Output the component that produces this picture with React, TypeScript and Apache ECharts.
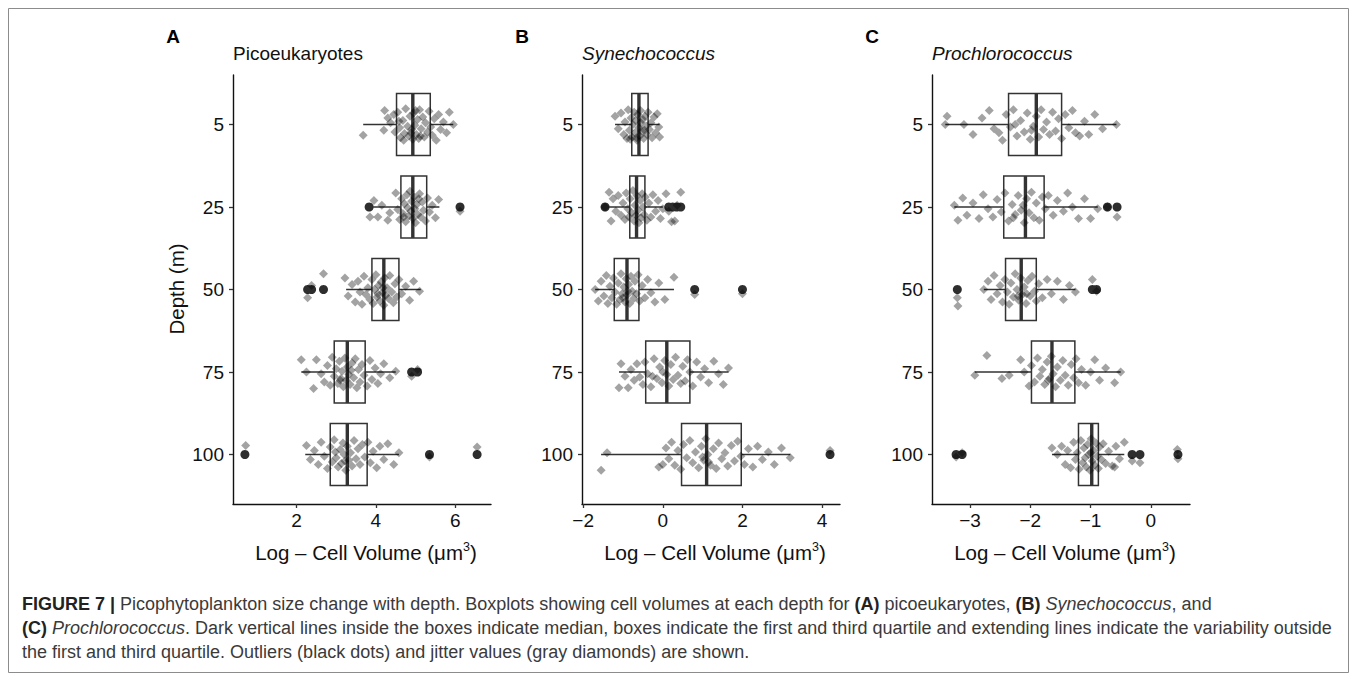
import React, { useEffect, useRef } from 'react';
import * as echarts from 'echarts';

// ---------------- DATA ----------------
const depthLabels = ['5', '25', '50', '75', '100'];

// box stats per depth: [lowWhisker, Q1, median, Q3, highWhisker]
const picoBoxes = [
  [3.68, 4.52, 4.93, 5.37, 5.95],
  [3.93, 4.63, 4.93, 5.28, 5.6],
  [3.25, 3.9, 4.2, 4.58, 5.13],
  [2.12, 2.95, 3.28, 3.73, 4.5],
  [2.22, 2.85, 3.28, 3.78, 4.58],
];
const synBoxes = [
  [-1.2, -0.78, -0.6, -0.37, -0.08],
  [-1.35, -0.83, -0.66, -0.45, 0.0],
  [-1.7, -1.22, -0.9, -0.6, 0.28],
  [-1.1, -0.43, 0.1, 0.68, 1.65],
  [-1.55, 0.47, 1.1, 1.97, 3.2],
];
const proBoxes = [
  [-3.41, -2.36, -1.9, -1.48, -0.57],
  [-3.26, -2.44, -2.08, -1.77, -0.88],
  [-2.77, -2.41, -2.15, -1.9, -1.25],
  [-2.92, -1.98, -1.64, -1.26, -0.5],
  [-1.64, -1.2, -0.98, -0.87, -0.44],
];

// outliers per depth
const picoOutliers = [[], [3.83, 6.12], [2.28, 2.38, 2.68], [4.9, 5.05], [0.7, 5.35, 6.55]];
const synOutliers = [[], [-1.45, 0.15, 0.25, 0.35, 0.45], [0.8, 2.0], [], [4.2]];
const proOutliers = [[], [-0.72, -0.56], [-3.21, -0.97, -0.9], [], [-3.23, -3.13, -0.31, -0.18, 0.45]];

// jitter points per depth: [value, vertical jitter offset]
const picoJitter5 = [[3.68,0.13],[4.22,-0.17],[4.3,-0.08],[4.2,0.07],[4.37,-0.02],[4.48,0.09],[4.55,-0.15],[4.6,0.04],[4.62,0.16],[4.68,-0.05],[4.72,0.11],[4.75,-0.19],[4.8,0.02],[4.83,0.14],[4.86,-0.1],[4.9,0.06],[4.93,0.18],[4.95,-0.14],[4.98,0.01],[5.02,0.12],[5.05,-0.06],[5.08,0.17],[5.1,-0.18],[5.14,0.05],[5.18,-0.09],[5.22,0.15],[5.25,-0.02],[5.3,0.09],[5.34,-0.16],[5.38,0.03],[5.42,0.13],[5.47,-0.07],[5.52,0.19],[5.58,-0.12],[5.63,0.06],[5.7,-0.03],[5.78,0.1],[5.85,-0.15],[5.95,0.0],[4.45,-0.12],[4.7,0.19],[5.0,-0.17],[4.88,0.1],[5.12,0.14],[4.58,-0.04]];
const picoJitter25 = [[3.85,0.12],[3.95,-0.08],[4.05,0.12],[4.15,-0.02],[4.3,0.16],[4.35,0.07],[4.5,-0.17],[4.55,0.03],[4.6,0.15],[4.65,-0.1],[4.68,0.08],[4.72,-0.04],[4.75,0.18],[4.78,-0.15],[4.8,0.01],[4.83,0.11],[4.86,-0.19],[4.88,0.05],[4.9,-0.07],[4.93,0.14],[4.96,-0.12],[4.98,0.02],[5.0,0.19],[5.03,-0.03],[5.06,0.09],[5.1,-0.16],[5.13,0.12],[5.17,-0.06],[5.2,0.04],[5.25,0.17],[5.3,-0.11],[5.35,0.06],[5.42,-0.02],[5.5,0.13],[5.58,-0.09],[6.12,0.05],[4.7,0.12],[5.08,-0.1]];
const picoJitter50 = [[2.28,0.1],[2.38,-0.05],[2.68,-0.19],[3.22,-0.14],[3.3,0.08],[3.4,-0.06],[3.48,0.15],[3.55,-0.1],[3.6,0.03],[3.65,0.18],[3.7,-0.16],[3.75,0.06],[3.8,-0.02],[3.85,0.12],[3.9,-0.12],[3.93,0.17],[3.97,0.0],[4.0,-0.18],[4.03,0.09],[4.07,-0.05],[4.1,0.14],[4.13,-0.09],[4.16,0.04],[4.2,0.19],[4.22,-0.14],[4.25,0.07],[4.28,-0.02],[4.32,0.11],[4.35,-0.17],[4.4,0.03],[4.44,0.16],[4.48,-0.07],[4.52,0.09],[4.58,-0.12],[4.65,0.05],[4.75,-0.04],[4.85,0.13],[4.95,-0.1],[5.1,0.02],[4.05,0.05],[4.18,-0.02]];
const picoJitter75 = [[2.12,-0.15],[2.25,0.0],[2.43,0.2],[2.5,-0.15],[2.62,0.02],[2.7,0.12],[2.78,-0.08],[2.85,0.16],[2.9,-0.18],[2.95,0.05],[3.0,-0.04],[3.04,0.14],[3.08,-0.13],[3.12,0.08],[3.15,-0.01],[3.18,0.18],[3.22,-0.17],[3.25,0.1],[3.28,-0.06],[3.32,0.03],[3.35,0.15],[3.4,-0.11],[3.44,0.07],[3.48,-0.16],[3.52,0.19],[3.56,-0.03],[3.6,0.12],[3.65,-0.09],[3.7,0.04],[3.78,0.17],[3.85,-0.14],[3.9,0.09],[3.98,-0.05],[4.05,0.14],[4.12,0.02],[4.2,-0.1],[4.35,0.07],[4.5,-0.01],[4.9,0.05],[5.05,-0.03],[3.1,0.1],[3.38,-0.02]];
const picoJitter100 = [[0.72,-0.11],[2.25,-0.11],[2.35,0.06],[2.45,-0.05],[2.55,0.12],[2.62,-0.15],[2.7,0.02],[2.78,0.17],[2.85,-0.09],[2.9,0.09],[2.95,-0.18],[3.0,0.04],[3.05,0.15],[3.1,-0.06],[3.13,0.11],[3.17,-0.14],[3.2,0.0],[3.24,0.19],[3.28,-0.1],[3.32,0.07],[3.36,-0.02],[3.4,0.14],[3.45,-0.17],[3.5,0.05],[3.55,-0.07],[3.6,0.12],[3.66,-0.12],[3.72,0.03],[3.8,-0.15],[3.86,0.1],[3.93,-0.04],[4.02,0.16],[4.1,-0.1],[4.2,0.06],[4.3,-0.13],[4.45,0.12],[4.58,-0.02],[5.35,0.03],[6.55,-0.09],[3.22,0.08],[2.98,-0.03]];

const synJitter5 = [[-1.2,-0.1],[-1.12,0.05],[-1.05,-0.14],[-0.98,0.12],[-0.95,-0.03],[-0.9,0.17],[-0.87,-0.18],[-0.84,0.07],[-0.8,-0.08],[-0.78,0.15],[-0.75,0.0],[-0.72,-0.15],[-0.7,0.1],[-0.68,-0.05],[-0.65,0.19],[-0.63,-0.12],[-0.6,0.04],[-0.58,0.14],[-0.56,-0.17],[-0.53,0.08],[-0.5,-0.06],[-0.48,0.17],[-0.45,-0.1],[-0.42,0.02],[-0.4,0.12],[-0.37,-0.15],[-0.34,0.06],[-0.3,-0.02],[-0.27,0.16],[-0.22,-0.09],[-0.18,0.1],[-0.14,-0.13],[-0.1,0.03],[-0.08,0.15],[-0.66,0.16],[-0.55,-0.02],[-0.82,0.18],[-0.46,0.07]];
const synJitter25 = [[-1.45,0.0],[-1.35,-0.18],[-1.3,0.17],[-1.25,-0.1],[-1.18,0.05],[-1.12,-0.14],[-1.05,0.1],[-1.0,-0.05],[-0.95,0.15],[-0.92,-0.17],[-0.88,0.02],[-0.85,0.12],[-0.82,-0.1],[-0.78,0.07],[-0.75,-0.2],[-0.72,0.17],[-0.7,-0.02],[-0.67,0.1],[-0.65,-0.14],[-0.62,0.04],[-0.6,0.19],[-0.57,-0.08],[-0.55,0.13],[-0.52,-0.16],[-0.5,0.0],[-0.47,0.09],[-0.44,-0.12],[-0.4,0.16],[-0.35,-0.05],[-0.3,0.12],[-0.25,-0.15],[-0.18,0.05],[-0.12,-0.08],[-0.06,0.14],[0.0,0.02],[0.08,-0.16],[0.15,0.05],[0.22,0.18],[0.3,0.17],[0.36,-0.02],[0.45,-0.18]];
const synJitter50 = [[-1.7,0.0],[-1.62,0.14],[-1.55,-0.1],[-1.48,0.08],[-1.42,-0.17],[-1.38,0.17],[-1.33,-0.04],[-1.28,0.1],[-1.24,-0.14],[-1.2,0.03],[-1.16,0.18],[-1.12,-0.08],[-1.08,0.12],[-1.05,-0.19],[-1.02,0.05],[-0.98,-0.03],[-0.95,0.15],[-0.92,-0.13],[-0.9,0.07],[-0.86,-0.06],[-0.83,0.17],[-0.8,-0.16],[-0.77,0.02],[-0.73,0.11],[-0.7,-0.1],[-0.66,0.05],[-0.62,-0.18],[-0.58,0.14],[-0.52,-0.05],[-0.45,0.1],[-0.38,-0.12],[-0.3,0.04],[-0.2,0.15],[-0.1,-0.08],[0.05,0.12],[0.28,-0.15],[0.8,0.06],[2.0,0.05],[-1.0,0.1],[-0.88,0.02]];
const synJitter75 = [[-1.1,0.19],[-1.05,-0.1],[-0.95,0.05],[-0.87,0.19],[-0.8,-0.03],[-0.72,0.1],[-0.65,-0.1],[-0.58,0.06],[-0.5,0.15],[-0.45,-0.12],[-0.38,0.02],[-0.3,0.18],[-0.22,-0.16],[-0.15,0.08],[-0.08,-0.06],[-0.02,0.13],[0.05,-0.14],[0.1,0.03],[0.15,0.17],[0.2,-0.09],[0.26,0.09],[0.32,-0.18],[0.38,0.04],[0.45,0.14],[0.5,-0.07],[0.56,0.11],[0.62,-0.15],[0.68,0.0],[0.75,0.17],[0.85,-0.12],[0.95,0.06],[1.05,-0.04],[1.15,0.13],[1.28,-0.13],[1.4,0.02],[1.52,0.15],[1.65,-0.05],[0.0,0.0],[-0.26,0.05]];
const synJitter100 = [[-1.55,0.19],[-1.4,-0.02],[-0.1,0.15],[0.0,0.12],[0.08,-0.08],[0.15,0.05],[0.22,-0.15],[0.3,0.13],[0.38,-0.05],[0.45,0.18],[0.52,-0.12],[0.6,0.04],[0.68,-0.17],[0.75,0.1],[0.82,-0.03],[0.9,0.16],[0.97,-0.1],[1.03,0.07],[1.08,-0.19],[1.13,0.0],[1.2,0.13],[1.27,-0.07],[1.34,0.17],[1.4,-0.14],[1.48,0.05],[1.56,-0.02],[1.63,0.14],[1.72,-0.11],[1.8,0.08],[1.88,-0.16],[1.96,0.02],[2.05,0.12],[2.15,-0.07],[2.26,0.15],[2.38,-0.1],[2.5,0.06],[2.65,-0.03],[2.8,0.12],[2.98,-0.08],[3.2,0.04],[4.2,-0.05],[1.0,0.03],[1.15,0.09]];

const proJitter5 = [[-3.41,0.0],[-3.38,-0.1],[-3.1,0.0],[-2.95,0.12],[-2.8,-0.08],[-2.68,-0.17],[-2.6,0.05],[-2.52,0.1],[-2.46,0.19],[-2.4,-0.12],[-2.33,0.03],[-2.28,-0.18],[-2.22,0.14],[-2.16,-0.05],[-2.1,0.09],[-2.05,-0.14],[-2.0,0.18],[-1.95,0.02],[-1.9,-0.1],[-1.86,0.15],[-1.82,-0.18],[-1.78,0.06],[-1.73,-0.03],[-1.68,0.12],[-1.63,-0.15],[-1.58,0.08],[-1.53,-0.07],[-1.48,0.17],[-1.42,-0.12],[-1.36,0.04],[-1.3,-0.17],[-1.25,0.1],[-1.18,0.14],[-1.1,-0.04],[-1.03,0.12],[-0.93,-0.12],[-0.8,0.05],[-0.57,0.0],[-2.25,0.0],[-1.98,0.07]];
const proJitter25 = [[-3.26,-0.02],[-3.2,0.16],[-3.12,-0.11],[-3.05,0.1],[-2.95,-0.05],[-2.85,0.14],[-2.78,-0.15],[-2.7,0.02],[-2.62,0.12],[-2.55,-0.09],[-2.48,0.06],[-2.42,-0.17],[-2.36,0.17],[-2.3,-0.03],[-2.25,0.09],[-2.2,-0.14],[-2.15,0.04],[-2.1,0.19],[-2.06,-0.1],[-2.02,0.07],[-1.98,-0.18],[-1.94,0.13],[-1.9,-0.05],[-1.85,0.16],[-1.8,-0.12],[-1.75,0.02],[-1.7,-0.14],[-1.62,0.1],[-1.55,-0.08],[-1.45,0.05],[-1.38,-0.17],[-1.3,0.0],[-1.2,0.14],[-1.1,-0.1],[-1.0,0.14],[-0.88,0.02],[-0.72,0.0],[-0.56,0.12],[-2.12,-0.02],[-2.28,0.13]];
const proJitter50 = [[-3.21,0.1],[-3.2,0.2],[-2.77,0.0],[-2.7,-0.1],[-2.65,0.12],[-2.6,-0.17],[-2.55,0.05],[-2.5,-0.05],[-2.46,0.15],[-2.42,-0.12],[-2.38,0.03],[-2.35,0.18],[-2.32,-0.08],[-2.28,0.09],[-2.25,-0.19],[-2.22,0.0],[-2.19,0.13],[-2.16,-0.14],[-2.13,0.06],[-2.1,-0.03],[-2.07,0.17],[-2.04,-0.11],[-2.0,0.08],[-1.97,-0.16],[-1.93,0.02],[-1.9,0.14],[-1.86,-0.07],[-1.8,0.1],[-1.72,-0.12],[-1.65,0.05],[-1.55,-0.1],[-1.45,0.12],[-1.35,-0.05],[-1.25,0.03],[-0.97,-0.12],[-0.9,0.02],[-2.2,0.08],[-2.06,0.05]];
const proJitter75 = [[-2.92,0.04],[-2.72,-0.2],[-2.47,0.08],[-2.35,0.04],[-2.16,-0.15],[-2.1,0.0],[-2.02,0.17],[-1.98,-0.08],[-1.93,0.12],[-1.88,-0.17],[-1.84,0.05],[-1.8,-0.03],[-1.76,0.15],[-1.72,-0.12],[-1.68,0.08],[-1.65,-0.19],[-1.62,0.02],[-1.58,0.18],[-1.55,-0.06],[-1.5,0.1],[-1.46,-0.14],[-1.42,0.04],[-1.37,0.16],[-1.32,-0.09],[-1.28,0.07],[-1.24,-0.16],[-1.2,0.13],[-1.15,-0.03],[-1.08,0.16],[-1.0,0.0],[-0.93,-0.15],[-0.85,0.1],[-0.75,-0.05],[-0.6,0.13],[-0.5,0.0],[-1.7,0.1]];
const proJitter100 = [[-3.23,0.03],[-3.13,-0.02],[-1.64,-0.08],[-1.55,0.0],[-1.48,-0.1],[-1.42,0.12],[-1.38,-0.05],[-1.33,0.16],[-1.28,-0.15],[-1.25,0.06],[-1.22,-0.02],[-1.19,0.18],[-1.16,-0.17],[-1.13,0.1],[-1.11,-0.08],[-1.09,0.04],[-1.07,0.15],[-1.05,-0.12],[-1.03,0.0],[-1.01,0.19],[-0.99,-0.19],[-0.97,0.08],[-0.95,-0.05],[-0.93,0.13],[-0.91,-0.14],[-0.89,0.02],[-0.87,0.17],[-0.85,-0.09],[-0.82,0.06],[-0.79,-0.13],[-0.75,0.11],[-0.7,-0.04],[-0.64,0.14],[-0.58,-0.1],[-0.52,0.05],[-0.44,-0.15],[-0.6,0.15],[-0.31,0.08],[-0.18,0.1],[0.45,0.05],[0.44,-0.06],[-1.0,-0.02]];

const picoJitter = [picoJitter5, picoJitter25, picoJitter50, picoJitter75, picoJitter100];
const synJitter = [synJitter5, synJitter25, synJitter50, synJitter75, synJitter100];
const proJitter = [proJitter5, proJitter25, proJitter50, proJitter75, proJitter100];

const picoTicks = [2, 4, 6];
const synTicks = [-2, 0, 2, 4];
const proTicks = [-3, -2, -1, 0];

// ---------------- STYLE ----------------
const FONT = "'Liberation Sans', Arial, Helvetica, sans-serif";
const INK = '#333333';

const panels = [
  { letter: 'A', title: 'Picoeukaryotes', italic: false, left: 233, min: 0.4, max: 6.9, ticks: picoTicks, boxes: picoBoxes, outliers: picoOutliers, jitter: picoJitter },
  { letter: 'B', title: 'Synechococcus', italic: true, left: 582, min: -2.03, max: 4.45, ticks: synTicks, boxes: synBoxes, outliers: synOutliers, jitter: synJitter },
  { letter: 'C', title: 'Prochlorococcus', italic: true, left: 932, min: -3.63, max: 0.65, ticks: proTicks, boxes: proBoxes, outliers: proOutliers, jitter: proJitter },
];
const GRID_TOP = 75;
const GRID_W = 258;
const GRID_H = 429;

const fmtNum = (v: number) => (v < 0 ? '\u2212' + Math.abs(v) : String(v));

function renderBox(params: any, api: any) {
  const y = api.value(0);
  const lo = api.coord([api.value(1), y]);
  const q1 = api.coord([api.value(2), y]);
  const md = api.coord([api.value(3), y]);
  const q3 = api.coord([api.value(4), y]);
  const hi = api.coord([api.value(5), y]);
  const half = Math.abs(api.size([0, 0.75])[1]) / 2;
  const cy = q1[1];
  return {
    type: 'group',
    children: [
      { type: 'line', shape: { x1: lo[0], y1: cy, x2: q1[0], y2: cy }, style: { stroke: INK, lineWidth: 1.5 } },
      { type: 'line', shape: { x1: q3[0], y1: cy, x2: hi[0], y2: cy }, style: { stroke: INK, lineWidth: 1.5 } },
      { type: 'rect', shape: { x: q1[0], y: cy - half, width: q3[0] - q1[0], height: half * 2 }, style: { fill: '#ffffff', stroke: INK, lineWidth: 1.5 } },
      { type: 'line', shape: { x1: md[0], y1: cy - half, x2: md[0], y2: cy + half }, style: { stroke: INK, lineWidth: 3.4 } },
    ],
  };
}

function buildOption() {
  const grid: any[] = [];
  const xAxis: any[] = [];
  const yAxis: any[] = [];
  const series: any[] = [];
  const graphic: any[] = [];

  graphic.push({ type: 'rect', shape: { x: 8.5, y: 8.5, width: 1340, height: 664 }, style: { fill: 'none', stroke: '#8c8c8c', lineWidth: 1 }, silent: true });

  panels.forEach((p, i) => {
    grid.push({ left: p.left, top: GRID_TOP, width: GRID_W, height: GRID_H });
    xAxis.push({
      gridIndex: i, type: 'value', min: p.min, max: p.max,
      axisLine: { show: true, onZero: false, lineStyle: { color: '#111', width: 1.4 } },
      axisTick: { show: true, length: 4, customValues: p.ticks, lineStyle: { color: INK, width: 1.3 } },
      axisLabel: { customValues: p.ticks, formatter: (v: number) => fmtNum(v), fontSize: 19, color: '#111', fontFamily: FONT, margin: 7 },
      splitLine: { show: false },
    });
    yAxis.push({
      gridIndex: i, type: 'value', inverse: true, min: -0.6, max: 4.6,
      axisLine: { show: true, onZero: false, lineStyle: { color: '#111', width: 1.4 } },
      axisTick: { show: true, length: 4, customValues: [0, 1, 2, 3, 4], lineStyle: { color: INK, width: 1.3 } },
      axisLabel: { customValues: [0, 1, 2, 3, 4], formatter: (v: number) => depthLabels[Math.round(v)], fontSize: 19, color: '#111', fontFamily: FONT, margin: 9 },
      splitLine: { show: false },
    });

    series.push({
      type: 'custom', xAxisIndex: i, yAxisIndex: i, silent: true, z: 2,
      renderItem: renderBox,
      encode: { x: [1, 2, 3, 4, 5], y: 0 },
      data: p.boxes.map((b, j) => [j, ...b]),
    });
    const outData: number[][] = [];
    p.outliers.forEach((arr, j) => arr.forEach((v) => outData.push([v, j])));
    series.push({
      type: 'scatter', xAxisIndex: i, yAxisIndex: i, silent: true, z: 3,
      symbol: 'circle', symbolSize: 9, itemStyle: { color: '#2e2e2e', opacity: 1 },
      data: outData,
    });
    const jitData: number[][] = [];
    p.jitter.forEach((arr, j) => arr.forEach((pt) => jitData.push([pt[0], j + pt[1]])));
    series.push({
      type: 'scatter', xAxisIndex: i, yAxisIndex: i, silent: true, z: 4,
      symbol: 'diamond', symbolSize: 9, itemStyle: { color: 'rgba(0,0,0,0.45)' },
      data: jitData,
    });

    const cx = p.left + GRID_W / 2;
    graphic.push({ type: 'text', x: p.left - 60, y: 36, silent: true, style: { text: p.letter, font: `bold 19px ${FONT}`, fill: '#000', align: 'center', verticalAlign: 'middle' } });
    graphic.push({ type: 'text', x: p.left, y: 53, silent: true, style: { text: p.title, font: `${p.italic ? 'italic ' : ''}19px ${FONT}`, fill: '#111', align: 'left', verticalAlign: 'middle' } });
    graphic.push({
      type: 'text', x: cx + 4, y: 552, silent: true,
      style: {
        text: '{a|Log \u2013 Cell Volume (\u03bcm}{s|3}{a|)}', align: 'center', verticalAlign: 'middle',
        rich: {
          a: { fontSize: 20.5, fontFamily: FONT, fill: '#111', lineHeight: 23 },
          s: { fontSize: 12.5, fontFamily: FONT, fill: '#111', verticalAlign: 'top', lineHeight: 13 },
        },
      },
    });
  });

  graphic.push({ type: 'text', x: 176, y: 289, rotation: Math.PI / 2, silent: true, style: { text: 'Depth (m)', font: `20.5px ${FONT}`, fill: '#111', align: 'center', verticalAlign: 'middle' } });

  const CF = 18;
  const capRich = {
    n: { fontSize: CF, fontFamily: FONT, fill: '#3a3a3a' },
    b: { fontSize: CF, fontFamily: FONT, fontWeight: 'bold', fill: '#222' },
    i: { fontSize: CF, fontFamily: FONT, fontStyle: 'italic', fill: '#3a3a3a' },
  };
  const capLines = [
    '{b|FIGURE 7 |}{n| Picophytoplankton size change with depth. Boxplots showing cell volumes at each depth for }{b|(A)}{n| picoeukaryotes, }{b|(B)}{n| }{i|Synechococcus}{n|, and}',
    '{b|(C)}{n| }{i|Prochlorococcus}{n|. Dark vertical lines inside the boxes indicate median, boxes indicate the first and third quartile and extending lines indicate the variability outside}',
    '{n|the first and third quartile. Outliers (black dots) and jitter values (gray diamonds) are shown.}',
  ];
  const capY = [604, 628, 652];
  capLines.forEach((t, k) => {
    graphic.push({ type: 'text', x: 22, y: capY[k], silent: true, style: { text: t, rich: capRich, align: 'left', verticalAlign: 'middle' } });
  });

  return { animation: false, backgroundColor: '#ffffff', grid, xAxis, yAxis, series, graphic };
}

export default function App() {
  const ref = useRef<HTMLDivElement>(null);
  useEffect(() => {
    if (!ref.current) return;
    const chart = echarts.init(ref.current, undefined, { renderer: 'svg' });
    chart.setOption(buildOption() as any);
    return () => chart.dispose();
  }, []);
  return <div ref={ref} style={{ position: 'absolute', left: 0, top: 0, width: 1357, height: 681 }} />;
}
